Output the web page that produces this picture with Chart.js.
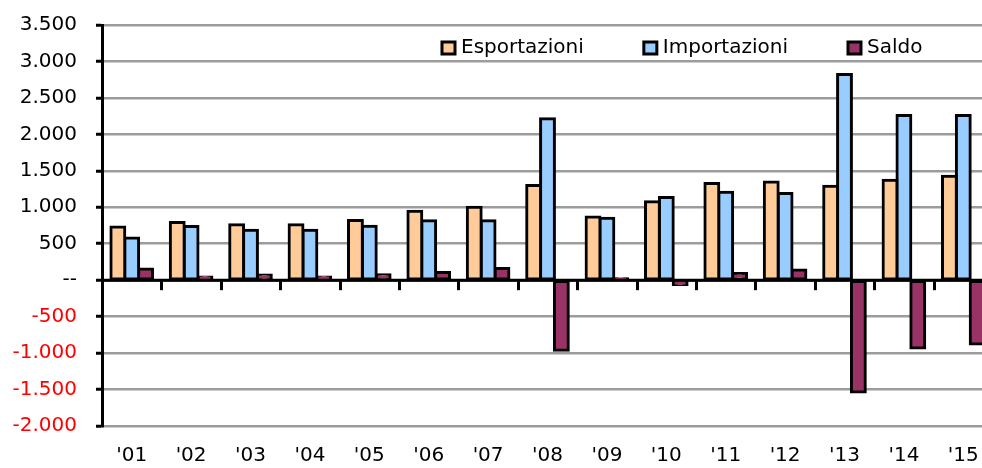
<!DOCTYPE html>
<html>
<head>
<meta charset="utf-8">
<script src="https://cdn.jsdelivr.net/npm/chart.js@4.4.0/dist/chart.umd.min.js"></script>
<style>
  html, body { margin: 0; padding: 0; overflow: hidden; background: #fff; }
  #wrap { width: 1000px; height: 468px; }
</style>
</head>
<body>
<div id="wrap"><canvas id="chart" width="1000" height="468"></canvas></div>
<script>
const years = ["'01", "'02", "'03", "'04", "'05", "'06", "'07", "'08", "'09", "'10", "'11", "'12", "'13", "'14", "'15"];
const esportazioni = [730, 790, 760, 760, 820, 945, 1000, 1300, 865, 1075, 1325, 1345, 1290, 1370, 1425];
const importazioni = [580, 735, 685, 685, 740, 815, 815, 2215, 850, 1135, 1205, 1190, 2820, 2260, 2260];
const saldo = [155, 45, 70, 45, 75, 105, 160, -960, 20, -60, 90, 140, -1535, -930, -875];
const seriesNames = ['Esportazioni', 'Importazioni', 'Saldo'];
const seriesColors = ['#FFCC99', '#99CCFF', '#993366'];

const FONT = 'DejaVu Sans';

function fmt(v) {
  if (v === 0) return '--';
  const s = Math.abs(v).toString().replace(/\B(?=(\d{3})+(?!\d))/g, '.');
  return (v < 0 ? '-' : '') + s;
}

// zero line + little ticks under it between the categories
const zeroTicks = {
  id: 'zeroTicks',
  afterDatasetsDraw(chart) {
    const { ctx, scales: { x, y } } = chart;
    const y0 = y.getPixelForValue(0);
    ctx.save();
    ctx.strokeStyle = '#000';
    ctx.lineWidth = 3;
    ctx.beginPath();
    ctx.moveTo(chart.chartArea.left, y0);
    ctx.lineTo(chart.chartArea.right, y0);
    ctx.stroke();
    for (let i = 1; i < years.length; i++) {
      const bx = Math.round((x.getPixelForTick(i) + x.getPixelForTick(i - 1)) / 2) + 0.5;
      ctx.beginPath();
      ctx.moveTo(bx, y0);
      ctx.lineTo(bx, y0 + 10);
      ctx.stroke();
    }
    ctx.restore();
  }
};

// legend drawn inside the plot, top right
const innerLegend = {
  id: 'innerLegend',
  afterDraw(chart) {
    const ctx = chart.ctx;
    ctx.save();
    ctx.font = '20px ' + FONT;
    ctx.textBaseline = 'middle';
    let lx = 442;
    const ly = 48;
    chart.data.datasets.forEach(ds => {
      ctx.fillStyle = ds.backgroundColor;
      ctx.fillRect(lx, ly - 6, 13, 12);
      ctx.strokeStyle = '#000';
      ctx.lineWidth = 3;
      ctx.strokeRect(lx, ly - 6, 13, 12);
      ctx.fillStyle = '#000';
      ctx.fillText(ds.label, lx + 19, ly);
      lx += 19 + ctx.measureText(ds.label).width + 60;
    });
    ctx.restore();
  }
};

const ctx = document.getElementById('chart').getContext('2d');
new Chart(ctx, {
  type: 'bar',
  data: {
    labels: years,
    datasets: [
      { label: seriesNames[0], data: esportazioni, backgroundColor: seriesColors[0] },
      { label: seriesNames[1], data: importazioni, backgroundColor: seriesColors[1] },
      { label: seriesNames[2], data: saldo, backgroundColor: seriesColors[2] }
    ].map(d => Object.assign(d, { borderColor: '#000', borderWidth: 3, borderSkipped: false, inflateAmount: 1.5 }))
  },
  options: {
    responsive: false,
    animation: false,
    devicePixelRatio: 1,
    layout: { padding: { top: 25, right: 7, left: 0, bottom: 0 } },
    datasets: { bar: { categoryPercentage: 0.7, barPercentage: 1.0 } },
    plugins: { legend: { display: false }, tooltip: { enabled: false } },
    scales: {
      x: {
        grid: { display: false, drawTicks: false },
        border: { display: false },
        ticks: { color: '#000', font: { family: FONT, size: 20 }, padding: 18, maxRotation: 0, autoSkip: false },
        afterFit(scale) { scale.height = 42; }
      },
      y: {
        min: -2000,
        max: 3500,
        ticks: {
          stepSize: 500,
          padding: 19,
          font: { family: FONT, size: 20 },
          color: c => (c.tick && c.tick.value < 0 ? '#FF0000' : '#000'),
          callback: v => fmt(v)
        },
        grid: {
          color: c => (c.tick && c.tick.value === 0 ? '#000' : '#9C9C9C'),
          lineWidth: 2.5,
          tickColor: '#000',
          tickLength: 6,
          tickWidth: 3
        },
        border: { color: '#000', width: 3 },
        afterFit(scale) {
          scale.width = 102;
          scale.paddingTop = 0;
          scale.paddingBottom = 0;
        }
      }
    }
  },
  plugins: [zeroTicks, innerLegend]
});
</script>
</body>
</html>
